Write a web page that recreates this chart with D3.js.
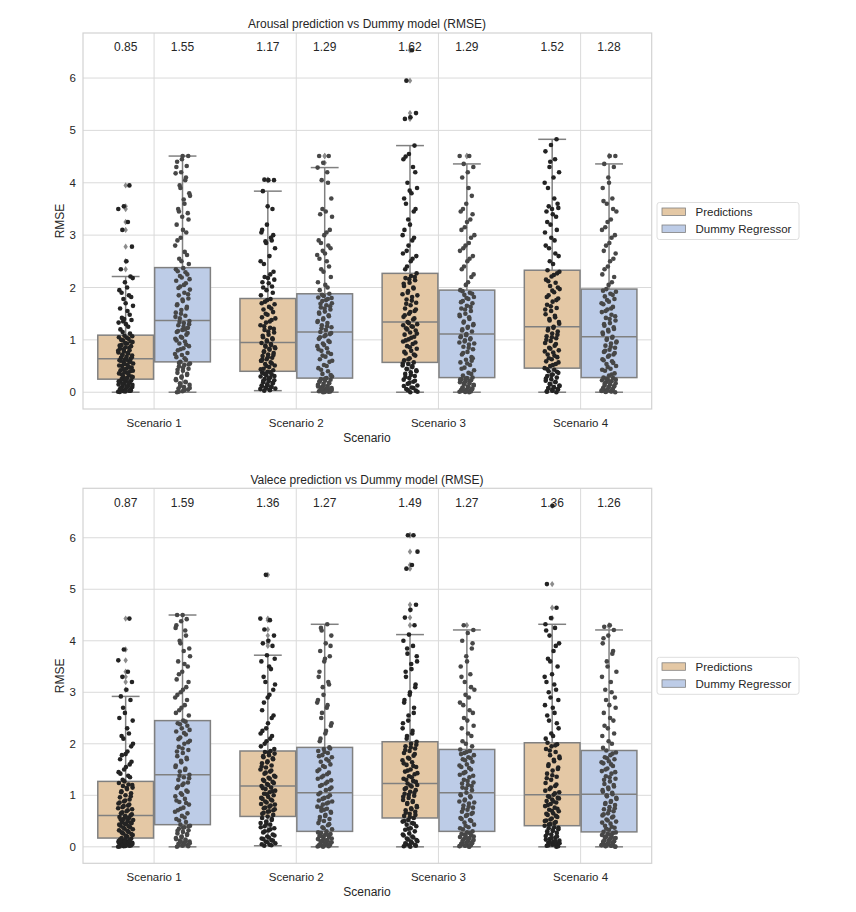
<!DOCTYPE html>
<html>
<head>
<meta charset="utf-8">
<script src="https://cdn.jsdelivr.net/npm/d3@7"></script>
<style>
  body { margin: 0; background: #fff; }
  text { font-family: Arial, "Liberation Sans", sans-serif; fill: #262626; }
</style>
</head>
<body>
<svg width="856" height="912"></svg>
<script>
// categories
const scenarios = ["Scenario 1", "Scenario 2", "Scenario 3", "Scenario 4"];
const hues = ["Predictions", "Dummy Regressor"];
const yTicks = [0, 1, 2, 3, 4, 5, 6];

// box stats, ordered S1 pred, S1 dummy, S2 pred, S2 dummy, ...
const arousalQ1     = [0.25, 0.58, 0.40, 0.27, 0.57, 0.28, 0.46, 0.28];
const arousalMedian = [0.64, 1.37, 0.95, 1.15, 1.34, 1.11, 1.25, 1.06];
const arousalQ3     = [1.09, 2.38, 1.79, 1.88, 2.27, 1.95, 2.33, 1.97];
const arousalLow    = [0.00, 0.00, 0.03, 0.00, 0.00, 0.00, 0.00, 0.00];
const arousalHigh   = [2.21, 4.51, 3.84, 4.29, 4.71, 4.36, 4.83, 4.36];
const arousalMean   = [0.85, 1.55, 1.17, 1.29, 1.62, 1.29, 1.52, 1.28];

const valenceQ1     = [0.17, 0.43, 0.59, 0.30, 0.56, 0.30, 0.41, 0.29];
const valenceMedian = [0.61, 1.40, 1.18, 1.05, 1.23, 1.05, 1.01, 1.02];
const valenceQ3     = [1.27, 2.45, 1.86, 1.93, 2.04, 1.89, 2.02, 1.87];
const valenceLow    = [0.00, 0.00, 0.02, 0.00, 0.00, 0.00, 0.00, 0.00];
const valenceHigh   = [2.92, 4.50, 3.72, 4.32, 4.12, 4.21, 4.32, 4.21];
const valenceMean   = [0.87, 1.59, 1.36, 1.27, 1.49, 1.27, 1.36, 1.26];

// RMSE values per sample
const aroS1Pred = [0.01,0.02,0.03,0.04,0.05,0.06,0.08,0.09,0.1,0.12,0.13,0.15,0.17,0.18,0.2,0.22,0.23,0.25,
  0.27,0.29,0.31,0.33,0.36,0.38,0.4,0.42,0.45,0.47,0.5,0.52,0.55,0.57,0.59,0.61,0.63,0.64,
  0.66,0.68,0.7,0.72,0.74,0.76,0.78,0.8,0.83,0.86,0.88,0.9,0.93,0.96,0.99,1.02,1.05,1.08,
  1.12,1.2,1.3,1.38,1.42,1.55,1.65,1.78,1.85,1.95,2.1,2.21,2.35,2.5,2.78,3.1,3.25,3.5,3.55,3.95,
  0.005,0.015,0.035,0.07,0.11,0.14,0.16,0.19,0.21,0.24,0.03,0.07,
  0.26,0.3,0.34,0.37,0.41,0.44,0.48,0.51,0.54,0.58,0.6,0.62,
  0.67,0.71,0.75,0.79,0.82,0.85,0.89,0.94,0.97,1.0,1.04,1.07,
  1.15,1.25,1.33,1.4,1.48,1.6,1.7,1.82,1.9,2.0,2.18,1.35];
const aroS1Dummy = [0.0,0.02,0.05,0.07,0.1,0.14,0.17,0.2,0.25,0.28,0.33,0.37,0.41,0.45,0.49,0.52,0.55,0.58,
  0.62,0.67,0.71,0.75,0.8,0.84,0.88,0.93,0.97,1.02,1.06,1.1,1.15,1.19,1.23,1.28,1.32,1.36,
  1.41,1.46,1.52,1.57,1.63,1.68,1.74,1.79,1.85,1.9,1.96,2.02,2.08,2.13,2.19,2.25,2.31,2.37,
  2.45,2.55,2.68,2.8,2.95,3.05,3.2,3.35,3.42,3.5,3.68,3.8,3.95,4.05,4.18,4.2,4.32,4.4,4.51,4.51,
  0.01,0.04,0.08,0.12,0.19,0.23,0.3,0.35,0.43,0.47,0.53,0.56,
  0.65,0.73,0.82,0.91,0.99,1.04,1.13,1.17,1.25,1.3,1.34,1.2,
  1.44,1.5,1.6,1.66,1.77,1.87,1.99,2.05,2.16,2.22,2.29,2.35,
  2.5,2.62,2.9,3.1,3.3,3.45,3.6,3.75,3.9,4.1,4.3,4.45];
const aroS2Pred = [0.03,0.05,0.07,0.09,0.11,0.13,0.15,0.17,0.19,0.21,0.23,0.25,0.28,0.3,0.32,0.34,0.37,0.39,
  0.42,0.45,0.48,0.51,0.54,0.57,0.6,0.63,0.66,0.69,0.72,0.75,0.78,0.81,0.84,0.87,0.9,0.94,
  0.97,1.01,1.05,1.1,1.14,1.19,1.23,1.28,1.33,1.38,1.43,1.48,1.53,1.58,1.63,1.68,1.73,1.78,
  1.85,1.95,2.02,2.1,2.18,2.3,2.45,2.6,2.75,2.88,2.95,3.05,3.2,3.5,3.84,4.05,4.05,4.06,
  0.04,0.06,0.08,0.1,0.12,0.14,0.18,0.22,0.26,0.31,0.35,0.38,
  0.44,0.5,0.55,0.62,0.67,0.71,0.77,0.83,0.86,0.89,0.92,0.6,
  0.99,1.03,1.08,1.16,1.21,1.26,1.35,1.41,1.5,1.6,1.7,1.76,
  1.9,2.0,2.08,2.15,2.2,2.25,2.5,2.85,2.9,3.1,3.55,3.0];
const aroS2Dummy = [0.0,0.01,0.02,0.03,0.04,0.05,0.06,0.08,0.1,0.12,0.14,0.16,0.18,0.2,0.22,0.24,0.25,0.27,
  0.3,0.35,0.4,0.46,0.52,0.58,0.63,0.68,0.73,0.79,0.84,0.88,0.93,0.98,1.02,1.07,1.11,1.15,
  1.19,1.24,1.28,1.32,1.36,1.41,1.45,1.5,1.54,1.58,1.62,1.66,1.7,1.74,1.78,1.81,1.84,1.88,
  1.95,2.05,2.2,2.35,2.5,2.62,2.7,2.8,2.9,3.0,3.1,3.4,3.45,3.7,4.05,4.2,4.29,4.38,4.51,4.51,
  0.005,0.015,0.025,0.035,0.045,0.07,0.09,0.11,0.13,0.17,0.21,0.26,
  0.33,0.43,0.5,0.6,0.7,0.76,0.82,0.9,0.96,1.05,1.09,1.13,
  1.22,1.26,1.34,1.39,1.47,1.52,1.6,1.64,1.69,1.76,1.8,1.86,
  2.0,2.1,2.3,2.4,2.55,2.65,2.75,2.85,3.05,3.35,3.5,4.0];
const aroS3Pred = [0.0,0.03,0.06,0.09,0.13,0.16,0.2,0.24,0.27,0.31,0.35,0.38,0.42,0.45,0.48,0.51,0.54,0.57,
  0.61,0.65,0.7,0.74,0.79,0.83,0.88,0.92,0.97,1.01,1.06,1.1,1.14,1.18,1.22,1.26,1.3,1.34,
  1.39,1.44,1.5,1.55,1.6,1.66,1.71,1.77,1.82,1.87,1.93,1.98,2.03,2.09,2.14,2.18,2.22,2.27,
  2.4,2.55,2.65,2.8,2.95,3.1,3.2,3.5,3.6,3.8,3.9,4.0,4.3,4.45,4.55,4.71,5.22,5.25,5.33,5.95,6.53,
  0.01,0.04,0.08,0.12,0.18,0.22,0.29,0.33,0.4,0.44,0.5,0.55,
  0.63,0.72,0.77,0.86,0.95,0.99,1.04,1.12,1.2,1.25,1.28,1.32,
  1.41,1.47,1.53,1.58,1.69,1.75,1.85,1.9,2.0,2.07,2.16,2.2,
  2.35,2.5,2.6,2.7,2.9,3.0,3.3,3.45,3.7,3.85,4.2,4.5];
const aroS3Dummy = [0.0,0.01,0.02,0.03,0.04,0.05,0.07,0.09,0.11,0.13,0.15,0.17,0.19,0.21,0.23,0.25,0.27,0.28,
  0.32,0.37,0.42,0.47,0.52,0.57,0.62,0.67,0.72,0.77,0.82,0.87,0.91,0.95,0.99,1.03,1.07,1.11,
  1.16,1.2,1.25,1.3,1.35,1.4,1.45,1.5,1.55,1.6,1.65,1.7,1.74,1.78,1.82,1.86,1.9,1.95,
  2.05,2.2,2.35,2.5,2.6,2.75,2.85,3.0,3.15,3.3,3.45,3.6,3.75,4.1,4.2,4.3,4.36,4.51,4.51,
  0.005,0.015,0.025,0.035,0.06,0.08,0.1,0.14,0.18,0.22,0.24,0.26,
  0.35,0.45,0.55,0.65,0.75,0.85,0.93,0.97,1.01,1.05,1.09,0.6,
  1.18,1.23,1.28,1.33,1.43,1.48,1.58,1.63,1.72,1.8,1.88,1.93,
  2.1,2.25,2.4,2.55,2.7,2.8,2.95,3.1,3.25,3.4,3.5,3.9];
const aroS4Pred = [0.0,0.02,0.04,0.06,0.08,0.1,0.13,0.16,0.19,0.22,0.25,0.28,0.31,0.34,0.37,0.4,0.43,0.46,
  0.5,0.54,0.59,0.63,0.67,0.72,0.76,0.8,0.85,0.89,0.94,0.98,1.03,1.07,1.12,1.16,1.21,1.25,
  1.31,1.37,1.43,1.49,1.55,1.61,1.67,1.73,1.79,1.85,1.91,1.97,2.03,2.09,2.15,2.21,2.27,2.33,
  2.45,2.6,2.75,2.9,3.05,3.2,3.35,3.45,3.5,3.6,3.9,4.1,4.2,4.3,4.45,4.6,4.72,4.83,
  0.01,0.03,0.05,0.07,0.09,0.12,0.15,0.2,0.26,0.33,0.39,0.44,
  0.52,0.57,0.65,0.7,0.78,0.83,0.92,1.0,1.05,1.1,1.18,1.23,
  1.34,1.4,1.46,1.58,1.64,1.76,1.82,1.94,2.0,2.12,2.24,2.3,
  2.5,2.65,2.8,2.95,3.1,3.25,3.4,3.52,3.55,3.7,4.0,4.4];
const aroS4Dummy = [0.0,0.01,0.02,0.03,0.04,0.05,0.07,0.09,0.11,0.13,0.15,0.17,0.19,0.21,0.23,0.25,0.27,0.28,
  0.32,0.36,0.41,0.45,0.5,0.54,0.59,0.63,0.68,0.72,0.77,0.81,0.85,0.89,0.93,0.97,1.02,1.06,
  1.11,1.16,1.21,1.27,1.32,1.37,1.42,1.48,1.53,1.58,1.63,1.68,1.73,1.78,1.83,1.88,1.92,1.97,
  2.1,2.25,2.4,2.55,2.7,2.85,3.0,3.15,3.3,3.45,3.6,3.7,3.9,4.1,4.3,4.36,4.51,4.51,
  0.005,0.015,0.025,0.035,0.06,0.08,0.1,0.12,0.16,0.2,0.24,0.26,
  0.34,0.43,0.48,0.56,0.61,0.7,0.75,0.79,0.87,0.95,1.0,1.04,
  1.14,1.19,1.24,1.3,1.4,1.45,1.55,1.6,1.7,1.76,1.86,1.94,
  2.05,2.2,2.35,2.5,2.65,2.8,2.95,3.1,3.25,3.5,3.65,4.0];

const valS1Pred = [0.0,0.01,0.02,0.03,0.04,0.05,0.06,0.07,0.08,0.09,0.1,0.11,0.12,0.13,0.14,0.15,0.16,0.17,
  0.2,0.23,0.26,0.29,0.32,0.35,0.38,0.41,0.44,0.46,0.48,0.5,0.52,0.54,0.56,0.58,0.6,0.61,
  0.65,0.69,0.73,0.77,0.8,0.84,0.88,0.92,0.96,1.0,1.04,1.08,1.12,1.15,1.18,1.21,1.24,1.27,
  1.35,1.42,1.55,1.65,1.78,1.85,2.0,2.1,2.2,2.5,2.6,2.85,2.92,3.05,3.2,3.3,3.4,3.62,3.83,4.43,
  0.005,0.015,0.025,0.035,0.045,0.055,0.065,0.075,0.085,0.095,0.105,0.115,
  0.22,0.25,0.28,0.31,0.34,0.37,0.4,0.43,0.45,0.47,0.53,0.57,
  0.63,0.67,0.71,0.75,0.79,0.82,0.86,0.9,0.98,1.06,1.14,1.2,
  1.3,1.38,1.45,1.5,1.6,1.7,1.8,1.95,2.15,2.3,2.45,2.7];
const valS1Dummy = [0.0,0.02,0.04,0.06,0.08,0.1,0.12,0.14,0.17,0.2,0.23,0.26,0.29,0.32,0.35,0.38,0.41,0.43,
  0.48,0.54,0.6,0.65,0.71,0.76,0.82,0.87,0.93,0.98,1.04,1.09,1.14,1.2,1.25,1.3,1.35,1.4,
  1.46,1.52,1.58,1.64,1.7,1.76,1.82,1.88,1.94,2.0,2.06,2.12,2.18,2.24,2.3,2.35,2.4,2.45,
  2.55,2.65,2.75,2.9,3.0,3.1,3.25,3.4,3.5,3.6,3.8,3.85,4.0,4.2,4.25,4.38,4.42,4.5,4.5,
  0.01,0.03,0.05,0.07,0.09,0.11,0.15,0.19,0.25,0.31,0.37,0.4,
  0.51,0.57,0.68,0.74,0.85,0.9,1.01,1.07,1.17,1.23,1.33,1.38,
  1.49,1.55,1.67,1.73,1.85,1.91,2.03,2.09,2.21,2.27,2.38,2.43,
  2.6,2.7,2.85,2.95,3.05,3.2,3.35,3.55,3.7,3.95,4.1,4.3];
const valS2Pred = [0.02,0.04,0.07,0.1,0.13,0.16,0.2,0.24,0.28,0.32,0.36,0.4,0.43,0.46,0.49,0.52,0.56,0.59,
  0.62,0.66,0.69,0.73,0.76,0.8,0.83,0.86,0.9,0.93,0.97,1.0,1.03,1.06,1.09,1.12,1.15,1.18,
  1.22,1.26,1.3,1.34,1.38,1.42,1.46,1.5,1.54,1.58,1.62,1.66,1.7,1.74,1.78,1.81,1.84,1.86,
  1.95,2.05,2.15,2.25,2.4,2.55,2.8,2.95,3.15,3.2,3.45,3.6,3.72,3.9,3.95,4.0,4.1,4.22,4.4,4.43,5.28,
  0.03,0.05,0.09,0.12,0.15,0.18,0.22,0.3,0.34,0.38,0.45,0.54,
  0.64,0.68,0.71,0.75,0.78,0.82,0.88,0.92,0.95,1.02,1.08,1.14,
  1.2,1.24,1.28,1.32,1.36,1.44,1.48,1.56,1.64,1.72,1.76,1.83,
  1.9,2.0,2.1,2.2,2.3,2.5,2.65,2.9,3.05,3.3,3.5,3.65];
const valS2Dummy = [0.0,0.01,0.02,0.03,0.04,0.05,0.07,0.09,0.11,0.13,0.15,0.17,0.19,0.21,0.23,0.25,0.27,0.3,
  0.34,0.38,0.42,0.46,0.5,0.54,0.58,0.62,0.66,0.7,0.74,0.78,0.82,0.86,0.9,0.95,1.0,1.05,
  1.1,1.15,1.2,1.26,1.32,1.38,1.44,1.5,1.55,1.6,1.65,1.7,1.74,1.78,1.82,1.86,1.9,1.93,
  2.05,2.2,2.35,2.5,2.7,2.8,3.1,3.2,3.3,3.6,3.7,3.8,3.95,4.1,4.2,4.32,
  0.005,0.015,0.025,0.035,0.06,0.08,0.1,0.12,0.16,0.2,0.24,0.28,
  0.36,0.44,0.52,0.6,0.68,0.76,0.84,0.88,0.93,0.97,1.02,0.72,
  1.12,1.18,1.23,1.29,1.35,1.41,1.47,1.57,1.67,1.76,1.84,1.91,
  2.1,2.25,2.4,2.6,2.75,2.85,2.95,3.15,3.4,3.65,3.9,4.25];
const valS3Pred = [0.0,0.02,0.05,0.08,0.11,0.14,0.18,0.22,0.26,0.3,0.33,0.36,0.4,0.43,0.46,0.49,0.52,0.56,
  0.6,0.64,0.68,0.71,0.75,0.79,0.83,0.87,0.91,0.95,0.99,1.03,1.07,1.1,1.14,1.17,1.2,1.23,
  1.28,1.32,1.37,1.41,1.46,1.5,1.55,1.59,1.64,1.68,1.73,1.77,1.82,1.86,1.91,1.95,2.0,2.04,
  2.15,2.25,2.4,2.55,2.7,2.85,3.0,3.15,3.3,3.45,3.6,3.75,3.9,4.0,4.12,4.3,4.45,4.6,4.7,5.4,5.47,5.73,6.05,6.05,
  0.01,0.03,0.04,0.07,0.1,0.13,0.16,0.2,0.24,0.35,0.45,0.5,
  0.58,0.62,0.66,0.73,0.77,0.85,0.89,0.97,1.01,1.05,1.12,1.19,
  1.26,1.3,1.35,1.43,1.48,1.57,1.62,1.71,1.8,1.88,1.93,1.98,
  2.1,2.2,2.3,2.45,2.6,2.8,2.95,3.1,3.4,3.55,3.7,3.85];
const valS3Dummy = [0.0,0.01,0.02,0.03,0.04,0.05,0.07,0.09,0.11,0.13,0.15,0.17,0.19,0.21,0.23,0.25,0.28,0.3,
  0.34,0.38,0.43,0.47,0.52,0.56,0.6,0.64,0.68,0.72,0.76,0.8,0.84,0.88,0.92,0.96,1.0,1.05,
  1.1,1.15,1.2,1.25,1.3,1.35,1.4,1.45,1.5,1.55,1.6,1.65,1.7,1.74,1.78,1.82,1.86,1.89,
  2.0,2.15,2.3,2.45,2.6,2.75,2.9,3.05,3.2,3.35,3.5,3.7,3.85,4.0,4.15,4.21,4.3,
  0.005,0.015,0.025,0.035,0.06,0.08,0.1,0.12,0.16,0.2,0.24,0.27,
  0.36,0.41,0.5,0.54,0.62,0.66,0.74,0.78,0.86,0.9,0.98,1.02,
  1.13,1.18,1.23,1.28,1.38,1.43,1.53,1.58,1.68,1.72,1.8,1.84,
  1.95,2.05,2.2,2.35,2.5,2.65,2.8,2.95,3.1,3.3,3.6,3.95];
const valS4Pred = [0.0,0.02,0.04,0.06,0.08,0.1,0.12,0.15,0.18,0.21,0.24,0.27,0.3,0.32,0.34,0.36,0.38,0.41,
  0.44,0.48,0.51,0.55,0.58,0.62,0.65,0.69,0.72,0.76,0.79,0.83,0.86,0.89,0.92,0.95,0.98,1.01,
  1.06,1.12,1.18,1.24,1.3,1.36,1.42,1.48,1.54,1.6,1.66,1.72,1.78,1.84,1.9,1.95,1.99,2.02,
  2.15,2.3,2.45,2.6,2.75,2.9,3.05,3.2,3.35,3.5,3.65,3.8,3.95,4.1,4.25,4.32,4.44,4.64,5.1,6.62,
  0.01,0.03,0.05,0.07,0.09,0.11,0.14,0.17,0.2,0.26,0.31,0.37,
  0.43,0.46,0.5,0.53,0.6,0.64,0.7,0.74,0.81,0.88,0.94,0.97,
  1.04,1.09,1.15,1.21,1.33,1.39,1.51,1.57,1.69,1.75,1.87,1.97,
  2.1,2.2,2.4,2.55,2.7,2.85,3.0,3.15,3.3,3.6,3.9,4.2];
const valS4Dummy = [0.0,0.01,0.02,0.03,0.04,0.05,0.07,0.09,0.11,0.13,0.15,0.17,0.19,0.21,0.23,0.25,0.27,0.29,
  0.33,0.37,0.41,0.45,0.49,0.53,0.57,0.61,0.65,0.69,0.73,0.77,0.81,0.85,0.89,0.93,0.98,1.02,
  1.07,1.12,1.17,1.22,1.27,1.32,1.37,1.42,1.47,1.52,1.57,1.62,1.66,1.7,1.74,1.78,1.83,1.87,
  2.0,2.15,2.3,2.45,2.6,2.75,2.9,3.05,3.2,3.4,3.6,3.75,3.95,4.1,4.21,4.27,4.3,
  0.005,0.015,0.025,0.035,0.06,0.08,0.1,0.12,0.16,0.2,0.24,0.28,
  0.35,0.39,0.47,0.51,0.59,0.63,0.71,0.75,0.83,0.87,0.95,1.0,
  1.05,1.1,1.15,1.2,1.3,1.35,1.45,1.5,1.6,1.64,1.72,1.81,
  1.92,2.05,2.2,2.35,2.5,2.7,2.85,3.0,3.3,3.5,3.8,4.05];

const boxColor = d3.scaleOrdinal().domain(hues).range(["#e4c8a5", "#bdcce7"]);
const dotColor = d3.scaleOrdinal().domain(hues).range(["#232323", "#474747"]);
const edge = "#808080";

var svg = d3.select("svg");

function drawPanel(p) {
    var g = svg.append("g");
    var x = d3.scaleBand().domain(scenarios).range([83, 651.7]);
    var bw = x.bandwidth();
    var xh = d3.scaleBand().domain(hues).range([0.1 * bw, 0.9 * bw]);
    var y = d3.scaleLinear().domain(p.ydomain).range([p.bottom, p.top]);
    var boxW = xh.bandwidth() * 0.98;

    // grid
    g.append("g").selectAll("line").data(yTicks).enter().append("line")
        .attr("x1", 83).attr("x2", 651.7)
        .attr("y1", d => y(d)).attr("y2", d => y(d))
        .attr("stroke", "#dadada").attr("stroke-width", 1);
    g.append("g").selectAll("line").data(scenarios).enter().append("line")
        .attr("x1", d => x(d) + bw / 2).attr("x2", d => x(d) + bw / 2)
        .attr("y1", p.top).attr("y2", p.bottom)
        .attr("stroke", "#dadada").attr("stroke-width", 1);
    g.append("rect").attr("x", 83).attr("y", p.top)
        .attr("width", 651.7 - 83).attr("height", p.bottom - p.top)
        .attr("fill", "none").attr("stroke", "#d2d2d2").attr("stroke-width", 1.2);

    // y tick labels
    g.append("g").selectAll("text").data(yTicks).enter().append("text")
        .attr("x", 76).attr("y", d => y(d) + 4)
        .attr("text-anchor", "end").attr("font-size", "11.5px")
        .text(d => d);
    // x tick labels
    g.append("g").selectAll("text").data(scenarios).enter().append("text")
        .attr("x", d => x(d) + bw / 2).attr("y", p.bottom + 18)
        .attr("text-anchor", "middle").attr("font-size", "11.5px")
        .text(d => d);

    g.append("text").attr("x", 367).attr("y", p.bottom + 33)
        .attr("text-anchor", "middle").attr("font-size", "12px").text("Scenario");
    g.append("text")
        .attr("transform", "translate(64," + ((p.top + p.bottom) / 2) + ") rotate(-90)")
        .attr("text-anchor", "middle").attr("font-size", "12px").text("RMSE");
    g.append("text").attr("x", 367).attr("y", p.top - 4.7)
        .attr("text-anchor", "middle").attr("font-size", "12px").text(p.title);

    var groups = [];
    scenarios.forEach(function(s, si) {
        hues.forEach(function(h, hi) {
            var k = si * 2 + hi;
            groups.push({
                s: s, h: h, k: k,
                cx: x(s) + xh(h) + xh.bandwidth() / 2,
                q1: p.q1[k], med: p.med[k], q3: p.q3[k],
                lo: p.lo[k], hi: p.hi[k], mean: p.mean[k],
                vals: p.points[k]
            });
        });
    });

    // boxes
    var box = g.append("g").selectAll("g").data(groups).enter().append("g");
    box.append("line")
        .attr("x1", d => d.cx).attr("x2", d => d.cx)
        .attr("y1", d => y(d.q3)).attr("y2", d => y(d.hi))
        .attr("stroke", edge).attr("stroke-width", 1.5);
    box.append("line")
        .attr("x1", d => d.cx).attr("x2", d => d.cx)
        .attr("y1", d => y(d.q1)).attr("y2", d => y(d.lo))
        .attr("stroke", edge).attr("stroke-width", 1.5);
    box.append("line")
        .attr("x1", d => d.cx - boxW / 4).attr("x2", d => d.cx + boxW / 4)
        .attr("y1", d => y(d.hi)).attr("y2", d => y(d.hi))
        .attr("stroke", edge).attr("stroke-width", 1.5);
    box.append("line")
        .attr("x1", d => d.cx - boxW / 4).attr("x2", d => d.cx + boxW / 4)
        .attr("y1", d => y(d.lo)).attr("y2", d => y(d.lo))
        .attr("stroke", edge).attr("stroke-width", 1.5);
    box.append("rect")
        .attr("x", d => d.cx - boxW / 2).attr("width", boxW)
        .attr("y", d => y(d.q3)).attr("height", d => y(d.q1) - y(d.q3))
        .attr("fill", d => boxColor(d.h))
        .attr("stroke", edge).attr("stroke-width", 1.5);
    box.append("line")
        .attr("x1", d => d.cx - boxW / 2).attr("x2", d => d.cx + boxW / 2)
        .attr("y1", d => y(d.med)).attr("y2", d => y(d.med))
        .attr("stroke", edge).attr("stroke-width", 1.5);

    // fliers
    box.selectAll("path.flier")
        .data(d => d.vals.filter(v => v > d.hi || v < d.lo).map(v => ({cx: d.cx, v: v})))
        .enter().append("path")
        .attr("class", "flier")
        .attr("d", d => "M" + d.cx + "," + (y(d.v) - 3.2) + "l2.2,3.2l-2.2,3.2l-2.2,-3.2z")
        .attr("fill", "#8c8c8c");

    // strip points, spread sideways by index
    box.selectAll("circle")
        .data(d => d.vals.map((v, i) => ({cx: d.cx, v: v, i: i, h: d.h, k: d.k})))
        .enter().append("circle")
        .attr("cx", d => d.cx + (((d.i * 37 + d.k * 13) % 101) / 100 - 0.5) * 15)
        .attr("cy", d => y(d.v))
        .attr("r", 2.3)
        .attr("fill", d => dotColor(d.h));

    // mean labels
    g.append("g").selectAll("text").data(groups).enter().append("text")
        .attr("x", d => d.cx).attr("y", p.top + 18.3)
        .attr("text-anchor", "middle").attr("font-size", "12px")
        .text(d => d.mean.toFixed(2));

    // legend
    var ly = (p.top + p.bottom) / 2 - 18.5;
    var lg = g.append("g").attr("transform", "translate(657," + ly + ")");
    lg.append("rect").attr("width", 142).attr("height", 37).attr("rx", 2.5)
        .attr("fill", "#fff").attr("stroke", "#dedede");
    hues.forEach(function(h, i) {
        lg.append("rect").attr("x", 5).attr("y", 5.5 + i * 17)
            .attr("width", 23.5).attr("height", 7.5)
            .attr("fill", boxColor(h)).attr("stroke", edge).attr("stroke-width", 0.8);
        lg.append("text").attr("x", 38.5).attr("y", 13.5 + i * 17)
            .attr("font-size", "11.5px").text(h);
    });
}

drawPanel({
    title: "Arousal prediction vs Dummy model (RMSE)",
    top: 33, bottom: 409, ydomain: [-0.32, 6.86],
    q1: arousalQ1, med: arousalMedian, q3: arousalQ3,
    lo: arousalLow, hi: arousalHigh, mean: arousalMean,
    points: [aroS1Pred, aroS1Dummy, aroS2Pred, aroS2Dummy, aroS3Pred, aroS3Dummy, aroS4Pred, aroS4Dummy]
});

drawPanel({
    title: "Valece prediction vs Dummy model (RMSE)",
    top: 488.3, bottom: 863.3, ydomain: [-0.32, 6.96],
    q1: valenceQ1, med: valenceMedian, q3: valenceQ3,
    lo: valenceLow, hi: valenceHigh, mean: valenceMean,
    points: [valS1Pred, valS1Dummy, valS2Pred, valS2Dummy, valS3Pred, valS3Dummy, valS4Pred, valS4Dummy]
});
</script>
</body>
</html>
